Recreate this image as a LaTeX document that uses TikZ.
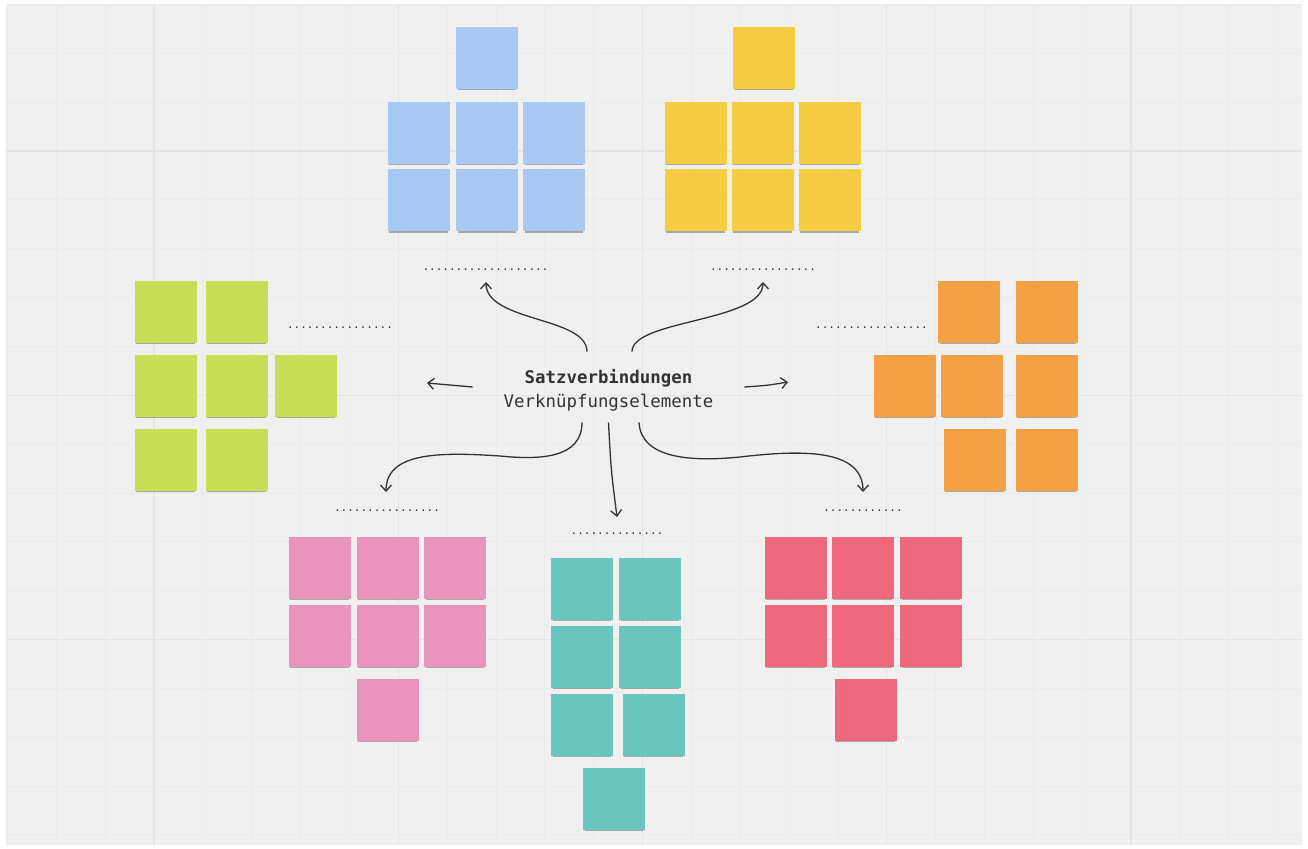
\documentclass[tikz,border=0pt]{standalone}
\usepackage{xcolor}
\usepackage{fontspec}
\setmonofont{DejaVu Sans Mono}
\usetikzlibrary{arrows.meta,shadows}

\definecolor{bgpaper}{HTML}{F0F0F0}
\definecolor{gridfaint}{HTML}{EBEBEB}
\definecolor{gridgrey}{HTML}{E4E4E4}
\definecolor{inkgrey}{HTML}{333333}
\definecolor{noteblue}{HTML}{A7C9F3}
\definecolor{noteyellow}{HTML}{F5CD42}
\definecolor{notegreen}{HTML}{C9DE57}
\definecolor{noteorange}{HTML}{F4A046}
\definecolor{notepink}{HTML}{E994BB}
\definecolor{noteteal}{HTML}{68C6BD}
\definecolor{notered}{HTML}{EF697E}

\tikzset{
  sticky/.style={rectangle, fill=#1, minimum size=31pt, inner sep=0pt,
    general shadow={shadow yshift=-1.6pt, shadow scale=0.94, fill=black, opacity=0.3}},
  blank/.style={font=\ttfamily\fontsize{5.5pt}{6pt}\selectfont, text=inkgrey, inner sep=0pt},
  hubtext/.style={font=\ttfamily\fontsize{8.7pt}{12pt}\selectfont, text=inkgrey, align=center,
    minimum width=135.5pt, minimum height=35pt, inner sep=0pt},
  link/.style={draw=inkgrey, line width=0.65pt, -{Straight Barb[length=3pt,width=5.5pt]}},
}

\begin{document}
\begin{tikzpicture}[x=0.5pt, y=-0.5pt]
    % paper and board grid
    \useasboundingbox (0,0) rectangle (1308,849);
    \fill[white] (0,0) rectangle (1308,849);
    \fill[bgpaper] (6,5) rectangle (1302,845);
    \begin{scope}
        \clip (6,5) rectangle (1302,845);
        \foreach \i in {-3,...,23}
            \draw[gridfaint, line width=0.4pt] ({154+48.85*\i},5) -- ({154+48.85*\i},845);
        \foreach \j in {-3,...,14}
            \draw[gridfaint, line width=0.4pt] (6,{151+48.85*\j}) -- (1302,{151+48.85*\j});
        \foreach \i in {0,5,10,15,20}
            \draw[gridgrey, line width=0.7pt] ({154+48.85*\i},5) -- ({154+48.85*\i},845);
        \foreach \j in {0,5,10}
            \draw[gridgrey, line width=0.7pt] (6,{151+48.85*\j}) -- (1302,{151+48.85*\j});
    \end{scope}

    % centre
    \node[hubtext] (hub) at (608.5,387) {\rule{0pt}{10.5pt}\textbf{Satzverbindungen}\\Verknüpfungselemente};

    % placeholders
    \node[blank] (blankTL) at (485.5,270) {...................};
    \node[blank] (blankTR) at (763,270) {................};
    \node[blank] (blankL) at (340,328) {................};
    \node[blank] (blankR) at (871.5,328) {.................};
    \node[blank] (blankBL) at (387,511) {................};
    \node[blank] (blankBC) at (617,534) {..............};
    \node[blank] (blankBR) at (863,511) {............};

    % blue
    \node[sticky=noteblue] (blue1) at (487,58) {};
    \node[sticky=noteblue] (blue2) at (418.5,133) {};
    \node[sticky=noteblue] (blue3) at (486.5,133) {};
    \node[sticky=noteblue] (blue4) at (554,133) {};
    \node[sticky=noteblue] (blue5) at (418.5,200.5) {};
    \node[sticky=noteblue] (blue6) at (487,200.5) {};
    \node[sticky=noteblue] (blue7) at (554,200.5) {};

    % yellow
    \node[sticky=noteyellow] (yellow1) at (764,58) {};
    \node[sticky=noteyellow] (yellow2) at (695.5,133) {};
    \node[sticky=noteyellow] (yellow3) at (762.5,133) {};
    \node[sticky=noteyellow] (yellow4) at (829.5,133) {};
    \node[sticky=noteyellow] (yellow5) at (695.5,200.5) {};
    \node[sticky=noteyellow] (yellow6) at (762.5,200.5) {};
    \node[sticky=noteyellow] (yellow7) at (829.5,200.5) {};

    % green
    \node[sticky=notegreen] (green1) at (165.5,312) {};
    \node[sticky=notegreen] (green2) at (236.5,312) {};
    \node[sticky=notegreen] (green3) at (165.5,386) {};
    \node[sticky=notegreen] (green4) at (236.5,386) {};
    \node[sticky=notegreen] (green5) at (306,386) {};
    \node[sticky=notegreen] (green6) at (165.5,460) {};
    \node[sticky=notegreen] (green7) at (236.5,460) {};

    % orange
    \node[sticky=noteorange] (orange1) at (969,312) {};
    \node[sticky=noteorange] (orange2) at (1046.5,312) {};
    \node[sticky=noteorange] (orange3) at (904.5,386) {};
    \node[sticky=noteorange] (orange4) at (972,386) {};
    \node[sticky=noteorange] (orange5) at (1046.5,386) {};
    \node[sticky=noteorange] (orange6) at (974.5,460) {};
    \node[sticky=noteorange] (orange7) at (1046.5,460) {};

    % pink
    \node[sticky=notepink] (pink1) at (319.5,568) {};
    \node[sticky=notepink] (pink2) at (387.5,568) {};
    \node[sticky=notepink] (pink3) at (455,568) {};
    \node[sticky=notepink] (pink4) at (319.5,636) {};
    \node[sticky=notepink] (pink5) at (387.5,636) {};
    \node[sticky=notepink] (pink6) at (455,636) {};
    \node[sticky=notepink] (pink7) at (387.5,710) {};

    % teal
    \node[sticky=noteteal] (teal1) at (582,589) {};
    \node[sticky=noteteal] (teal2) at (650,589) {};
    \node[sticky=noteteal] (teal3) at (582,657) {};
    \node[sticky=noteteal] (teal4) at (650,657) {};
    \node[sticky=noteteal] (teal5) at (582,725) {};
    \node[sticky=noteteal] (teal6) at (653.5,725) {};
    \node[sticky=noteteal] (teal7) at (614,799) {};

    % red
    \node[sticky=notered] (red1) at (795.5,568) {};
    \node[sticky=notered] (red2) at (862.5,568) {};
    \node[sticky=notered] (red3) at (931,568) {};
    \node[sticky=notered] (red4) at (795.5,636) {};
    \node[sticky=notered] (red5) at (862.5,636) {};
    \node[sticky=notered] (red6) at (931,636) {};
    \node[sticky=notered] (red7) at (865.5,710) {};

    % arrow tips
    \coordinate (tipTL) at (486,282);
    \coordinate (tipTR) at (763,282);
    \coordinate (tipL) at (427,383);
    \coordinate (tipR) at (788,382);
    \coordinate (tipBL) at (386,492);
    \coordinate (tipBC) at (617,517);
    \coordinate (tipBR) at (863,492);

    \draw[link] ([xshift=-10.75pt]hub.north) .. controls +(0,-35) and (486,322) .. (tipTL);
    \draw[link] ([xshift=11.75pt]hub.north) .. controls +(0,-32) and (763,322) .. (tipTR);
    \draw[link] (hub.west) .. controls (450,385.5) .. (tipL);
    \draw[link] (hub.east) .. controls (767,385.5) .. (tipR);
    \draw[link] ([xshift=-13.25pt]hub.south) .. controls +(0,36) and (540,460) .. (500,456)
        .. controls (440,452) and (386,452) .. (tipBL);
    \draw[link] (hub.south) .. controls (611,470) .. (tipBC);
    \draw[link] ([xshift=15.25pt]hub.south) .. controls +(2,36) and (690,462) .. (740,457)
        .. controls (800,450) and (863,448) .. (tipBR);
\end{tikzpicture}
\end{document}
